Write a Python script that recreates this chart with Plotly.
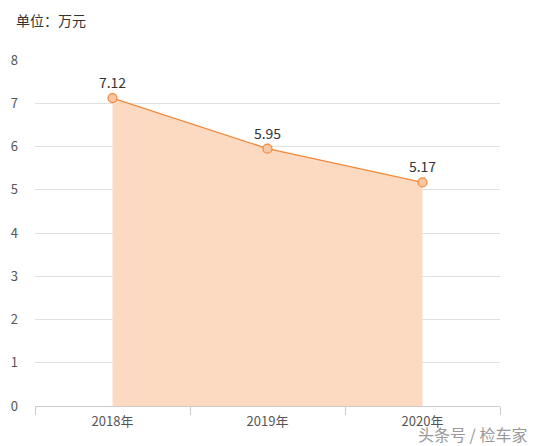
import plotly.graph_objects as go

years = ["2018年", "2019年", "2020年"]
values = [7.12, 5.95, 5.17]
y_ticks = [0, 1, 2, 3, 4, 5, 6, 7, 8]

font_family = "Noto Sans CJK SC, Noto Sans, sans-serif"

OFF = 8  # default page body margin
W, H = 536 - OFF, 446 - OFF
L, R, T, B = 35 - OFF, 36, 60 - OFF, 40
pw, ph = W - L - R, H - T - B


def px_x(page_x):
    return (page_x - OFF - L) / pw


def px_y(page_y):
    return (H - B - (page_y - OFF)) / ph


fig = go.Figure()
fig.add_trace(go.Scatter(
    x=years, y=values,
    mode="lines+markers+text",
    fill="tozeroy",
    fillcolor="rgba(252,218,194,1)",
    line=dict(color="#f0883a", width=1.2),
    marker=dict(size=9, color="#f9c7a2", line=dict(color="#f0883a", width=1.2)),
    text=[f"{v:.2f}" for v in values],
    textposition="top center",
    textfont=dict(size=14, color="#333333", family=font_family),
    hoverinfo="skip",
    cliponaxis=False,
))

fig.update_layout(
    width=W, height=H,
    margin=dict(l=L, r=R, t=T, b=B, autoexpand=False),
    paper_bgcolor="white", plot_bgcolor="white",
    showlegend=False,
    font=dict(family=font_family),
    annotations=[
        dict(text="单位：万元", xref="paper", yref="paper",
             x=px_x(14), y=px_y(20), xanchor="left", yanchor="middle",
             showarrow=False, font=dict(size=14, color="#333333")),
        dict(text="头条号 / 检车家", xref="paper", yref="paper",
             x=px_x(529), y=px_y(434), xanchor="right", yanchor="middle",
             showarrow=False, font=dict(size=16, color="#999999")),
    ],
)

fig.update_xaxes(
    type="category", range=[-0.5, 2.5], automargin=False,
    showgrid=False, showline=True, linecolor="#cccccc", linewidth=1,
    ticks="outside", tickson="boundaries", ticklen=8, tickcolor="#cccccc",
    tickfont=dict(size=13, color="#555555"), ticklabelstandoff=3,
)
fig.update_yaxes(
    range=[0, 8], tickvals=y_ticks, showgrid=True, gridcolor="#e0e0e0",
    zeroline=False, showline=False, ticks="", automargin=False,
    tickfont=dict(size=13, color="#555555"), ticklabelstandoff=16,
)

fig.write_html("out.html")
